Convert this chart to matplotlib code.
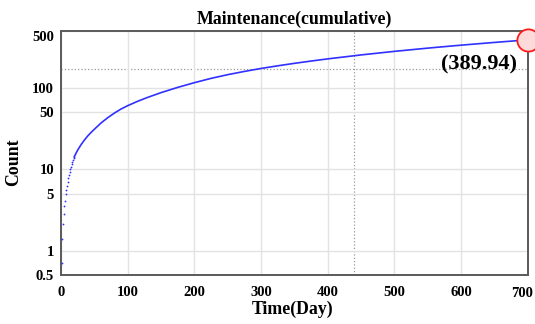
import matplotlib
matplotlib.use('Agg')
import matplotlib.pyplot as plt
from matplotlib.transforms import ScaledTranslation

# Dados (contagem acumulada de manutencao por dia)
dias_pontos = [1, 2, 3, 4, 5, 6, 7, 8, 9, 10, 11, 12, 13, 14, 15, 16, 17, 18, 19, 20]
cont_pontos = [0.70, 1.39, 2.1, 2.8, 3.5, 4.1, 4.9, 5.6, 6.3, 7.0, 7.8, 8.6, 9.3,
               10.0, 10.7, 11.5, 12.2, 12.9, 13.6, 14.3]
dias_linha = [20, 25, 30, 35, 40, 45, 50, 60, 70, 80, 90, 100, 115, 130, 150,
              175, 200, 225, 250, 275, 300, 325, 350, 375, 400, 450, 500, 550,
              600, 650, 700]
cont_linha = [14.3, 17.2, 20.0, 22.8, 25.6, 28.3, 31, 37, 43, 49, 55, 60.5, 68.5,
              76.5, 87.5, 101.5, 116, 131, 145.5, 159.5, 173.5, 187, 200.5, 214,
              227.5, 254.5, 281.5, 308.5, 335.5, 362.5, 389.94]
x_ticks = [0, 100, 200, 300, 400, 500, 600, 700]
y_ticks = [0.5, 1, 5, 10, 50, 100, 500]
y_tick_labels = ["0.5", "1", "5", "10", "50", "100", "500"]
cursor_x = 440
cursor_y = 170
ultimo_dia = 700
ultimo_valor = 389.94

# Cores
AZUL = "#3030ff"
CINZA_GRADE = "#e2e2e2"
CINZA_EIXO = "#5a5a5a"

plt.rcParams['font.family'] = ['Liberation Serif', 'DejaVu Serif']
plt.rcParams['font.weight'] = 'bold'

fig = plt.figure(figsize=(5.35, 3.24), dpi=100)
ax = fig.add_axes([0.114, 0.151, 0.8724, 0.7531])

ax.set_yscale('log')
ax.set_xlim(0, 700)
ax.set_ylim(0.5, 500)

ax.grid(True, color=CINZA_GRADE, linewidth=1.0, zorder=0)
ax.set_xticks(x_ticks)
ax.set_yticks(y_ticks)
ax.set_yticklabels(y_tick_labels)
ax.minorticks_off()
ax.tick_params(axis='x', length=0, pad=8, labelsize=10.5)
ax.tick_params(axis='y', length=0, pad=5, labelsize=10.5)
for lab in ax.get_xticklabels() + ax.get_yticklabels():
    lab.set_fontweight('bold')
ax.get_yticklabels()[-1].set_va('top')
ult_x = ax.get_xticklabels()[-1]
ult_x.set_transform(ult_x.get_transform() + ScaledTranslation(-4 / 72, -0.5 / 72, fig.dpi_scale_trans))

for s in ax.spines.values():
    s.set_color(CINZA_EIXO)
    s.set_linewidth(1.4)

# Linhas do cursor
ax.axhline(cursor_y, color="#999999", linestyle=':', linewidth=0.9, zorder=1)
ax.axvline(cursor_x, color="#999999", linestyle=':', linewidth=0.9, zorder=1)

# Serie
ax.plot(dias_pontos, cont_pontos, linestyle='none', marker='o', markersize=1.3,
        markeredgewidth=0, color=AZUL, zorder=3)
ax.plot(dias_linha, cont_linha, color=AZUL, linewidth=1.2, zorder=3)

# Ultimo ponto destacado
ax.plot([ultimo_dia], [ultimo_valor], marker='o', markersize=16,
        markerfacecolor="#fcdada", markeredgecolor="#ff1a1a", markeredgewidth=1.3,
        clip_on=False, zorder=4)
ax.annotate(f"({ultimo_valor:.2f})", xy=(ultimo_dia, ultimo_valor),
            xytext=(-8, -18), textcoords='offset points',
            ha='right', va='center', fontsize=16, fontweight='bold')

ax.text(0.5, 1.05, "Maintenance(cumulative)", transform=ax.transAxes,
        ha='center', va='center', fontsize=12.8, fontweight='bold')
ax.set_xlabel("Time(Day)", fontsize=12.8, fontweight='bold')
ax.set_ylabel("Count", fontsize=12.8, fontweight='bold')
ax.xaxis.set_label_coords(0.497, -0.105)
ax.yaxis.set_label_coords(-0.0836, 0.463)

plt.savefig("out.png", dpi=100)
plt.close()
